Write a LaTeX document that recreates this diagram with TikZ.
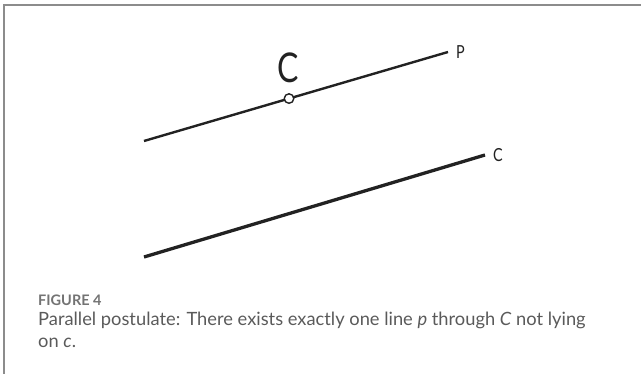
\documentclass[tikz,border=0pt]{standalone}
\usepackage{fontspec}
\setmainfont{Lato}
\usepackage{tikz}
\usetikzlibrary{calc}
\definecolor{framegray}{HTML}{8C8C8C}
\definecolor{capgray}{HTML}{5A5A5A}
\definecolor{inkgray}{HTML}{222222}
\tikzset{
    linelabel/.style={inner sep=0pt,text=inkgray,font=\fontsize{18}{18}\selectfont,xscale=0.8},
    caption/.style={anchor=base west,inner sep=0pt,text=capgray,font=\fontsize{18.3}{22}\selectfont}
}

\begin{document}
\begin{tikzpicture}[x=1pt,y=-1pt]
        \useasboundingbox (0,0) rectangle (641,374);
        \draw[framegray,line width=2pt] (4,374) -- (4,5) -- (641,5);
        \coordinate (p0) at (144,141); \coordinate (p1) at (448,52);
        \coordinate (c0) at (144,257); \coordinate (c1) at (485,155);
        \draw[inkgray,line width=2.4pt] (p0) -- (p1);
        \draw[inkgray,line width=3.3pt] (c0) -- (c1);
        \node[circle,draw=inkgray,line width=1.4pt,fill=white,inner sep=0pt,minimum size=9.5pt] (ptC) at ($(p0)!0.477!(p1)$) {};
        \node[inner sep=0pt,text=inkgray,font=\fontsize{41}{41}\selectfont,xscale=0.78] (labC) at (288,68) {C};
        \node[linelabel,anchor=west] (labp) at (456,52) {P};
        \node[linelabel,anchor=west] (labc) at (493,155) {C};
        \node[caption,font=\fontsize{14.5}{14.5}\selectfont\bfseries,text=capgray!85] (fig) at (38,306) {FIGURE 4};
        \node[caption] (cap1) at (38,326) {Parallel postulate: There exists exactly one line \textit{p} through \textit{C} not lying};
        \node[caption] (cap2) at (38,348) {on \textit{c}.};
    \end{tikzpicture}
\end{document}
